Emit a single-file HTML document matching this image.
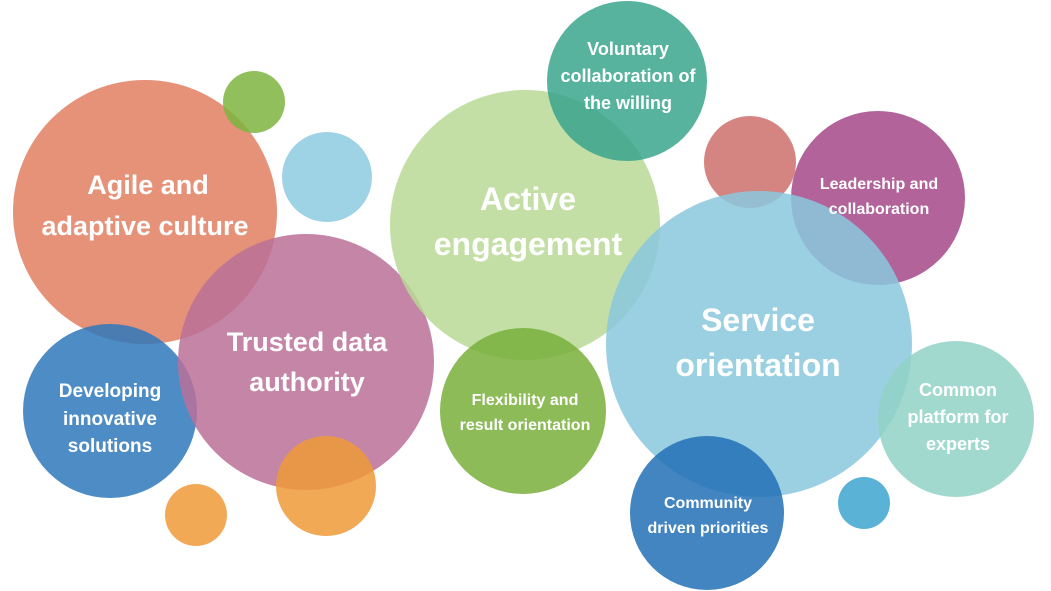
<!DOCTYPE html><html><head><style>body{margin:0;background:#fff}svg{display:block}text{font-family:"Liberation Sans",sans-serif;font-weight:bold;fill:#fff;text-anchor:middle}circle{fill-opacity:0.85}</style></head><body>
<svg width="1051" height="591" viewBox="0 0 1051 591">
<circle cx="145" cy="212" r="132" fill="#E07F62"/>
<circle cx="254" cy="102" r="31" fill="#7EB43F"/>
<circle cx="327" cy="177" r="45" fill="#8DCAE0"/>
<circle cx="110" cy="411" r="87" fill="#2F78BC"/>
<circle cx="306" cy="362" r="128" fill="#BA7098"/>
<circle cx="196" cy="515" r="31" fill="#EE9A38"/>
<circle cx="326" cy="486" r="50" fill="#EE9A38"/>
<circle cx="525" cy="225" r="135" fill="#B9D995"/>
<circle cx="627" cy="81" r="80" fill="#3AA48D"/>
<circle cx="523" cy="411" r="83" fill="#78AF3B"/>
<circle cx="750" cy="162" r="46" fill="#CC706B"/>
<circle cx="878" cy="198" r="87" fill="#A44888"/>
<circle cx="759" cy="344" r="153" fill="#8AC8DE"/>
<circle cx="956" cy="419" r="78" fill="#92D2C6"/>
<circle cx="707" cy="513" r="77" fill="#2270B6"/>
<circle cx="864" cy="503" r="26" fill="#3EA5D0"/>
<text font-size="27" x="148" y="194">Agile and</text><text font-size="27" x="145" y="235">adaptive culture</text>
<text font-size="27" x="307" y="351">Trusted data</text><text font-size="27" x="307" y="391">authority</text>
<text font-size="19" x="110" y="397">Developing</text><text font-size="19" x="110" y="425">innovative</text><text font-size="19" x="110" y="452">solutions</text>
<text font-size="32" x="528" y="210">Active</text><text font-size="32" x="528" y="255">engagement</text>
<text font-size="18" x="628" y="55">Voluntary</text><text font-size="18" x="628" y="82">collaboration of</text><text font-size="18" x="628" y="109">the willing</text>
<text font-size="16" x="525" y="405">Flexibility and</text><text font-size="16" x="525" y="430">result orientation</text>
<text font-size="16" x="879" y="189">Leadership and</text><text font-size="16" x="879" y="214">collaboration</text>
<text font-size="32" x="758" y="331">Service</text><text font-size="32" x="758" y="376">orientation</text>
<text font-size="18" x="958" y="396">Common</text><text font-size="18" x="958" y="423">platform for</text><text font-size="18" x="958" y="450">experts</text>
<text font-size="16" x="708" y="508">Community</text><text font-size="16" x="708" y="533">driven priorities</text>
</svg></body></html>
